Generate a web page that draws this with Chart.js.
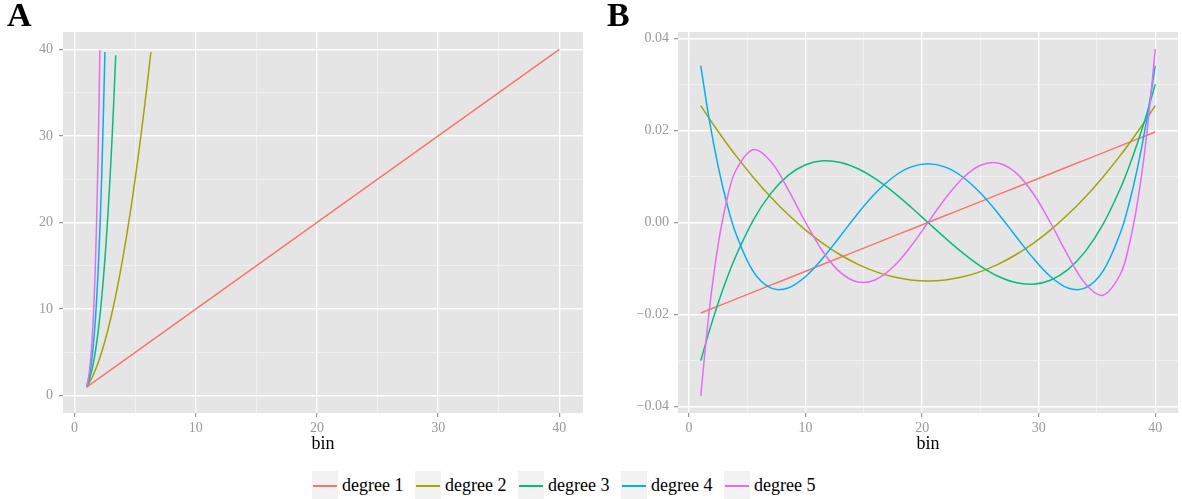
<!DOCTYPE html>
<html>
<head>
<meta charset="utf-8">
<script src="https://cdn.jsdelivr.net/npm/chart.js@4.4.1/dist/chart.umd.min.js"></script>
<style>
  body { margin: 0; background: #fff; font-family: "Liberation Serif", serif; }
  #page { position: relative; width: 1182px; height: 499px; overflow: hidden; }
  canvas { position: absolute; top: 0; }
  #chartA { left: 0; }
  #chartB { left: 590px; }
  .tag { position: absolute; top: -2px; font-size: 34px; font-weight: bold; line-height: 1; }
  .item { position: absolute; top: 471px; height: 28px; }
  .key { position: absolute; left: 0; top: 0; width: 26px; height: 28px; background: #f2f2f2; }
  .key span { position: absolute; left: 1px; right: 1px; top: 14px; height: 1.5px; }
  .lab { position: absolute; left: 30px; top: 2px; font-size: 18px; line-height: 24px; white-space: nowrap; color: #000; }
</style>
</head>
<body>
<div id="page">
  <canvas id="chartA" width="600" height="455"></canvas>
  <canvas id="chartB" width="592" height="455"></canvas>
  <div class="tag" style="left:7px">A</div>
  <div class="tag" style="left:607px">B</div>
  <div id="legend"></div>
</div>
<script>
const seriesNames = ['degree 1', 'degree 2', 'degree 3', 'degree 4', 'degree 5'];
const colors = ['#F8766D', '#A3A500', '#00BF7D', '#00B0F6', '#E76BF3'];

// panel A: raw powers of bin, cut at 40
const binA1 = [1, 40];
const deg1A = [1, 40];
const binA2 = [1, 1.5, 2, 2.5, 3, 3.5, 4, 4.5, 5, 5.5, 6, 6.3];
const deg2A = [1, 2.25, 4, 6.25, 9, 12.25, 16, 20.25, 25, 30.25, 36, 39.69];
const binA3 = [1, 1.25, 1.5, 1.75, 2, 2.25, 2.5, 2.75, 3, 3.2, 3.4];
const deg3A = [1, 1.95, 3.38, 5.36, 8, 11.39, 15.63, 20.8, 27, 32.77, 39.3];
const binA4 = [1, 1.25, 1.5, 1.75, 2, 2.25, 2.51];
const deg4A = [1, 2.44, 5.06, 9.38, 16, 25.63, 39.69];
const binA5 = [1, 1.2, 1.4, 1.6, 1.8, 2, 2.09];
const deg5A = [1, 2.49, 5.38, 10.49, 18.9, 32, 39.88];

// panel B: orthogonal polynomials
const binB = [1, 1.75, 2.5, 3.25, 4, 5.5, 7, 8.5, 10, 11.5, 13, 14.5, 16, 17.5, 19, 20.5,
  22, 23.5, 25, 26.5, 28, 29.5, 31, 32.5, 34, 35.5, 37, 37.75, 38.5, 39.25, 40];
const deg1B = [-0.01966, -0.01890, -0.01815, -0.01739, -0.01664, -0.01512, -0.01361, -0.01210,
  -0.01059, -0.00907, -0.00756, -0.00605, -0.00454, -0.00302, -0.00151, 0,
  0.00151, 0.00302, 0.00454, 0.00605, 0.00756, 0.00907, 0.01059, 0.01210,
  0.01361, 0.01512, 0.01664, 0.01739, 0.01815, 0.01890, 0.01966];
const deg2B = [0.02538, 0.02251, 0.01975, 0.01710, 0.01457, 0.00984, 0.00556, 0.00173,
  -0.00165, -0.00458, -0.00706, -0.00909, -0.01066, -0.01179, -0.01247, -0.01269,
  -0.01247, -0.01179, -0.01066, -0.00909, -0.00706, -0.00458, -0.00165, 0.00173,
  0.00556, 0.00984, 0.01457, 0.01710, 0.01975, 0.02251, 0.02538];
const deg3B = [-0.03003, -0.02343, -0.01747, -0.01212, -0.00737, 0.00048, 0.00627, 0.01022,
  0.01253, 0.01341, 0.01305, 0.01167, 0.00947, 0.00666, 0.00343, 0,
  -0.00343, -0.00666, -0.00947, -0.01167, -0.01305, -0.01341, -0.01253, -0.01022,
  -0.00627, -0.00048, 0.00737, 0.01212, 0.01747, 0.02343, 0.03003];
const deg4B = [0.03405, 0.02205, 0.01213, 0.00407, -0.00229, -0.01063, -0.01421, -0.01422,
  -0.01173, -0.00767, -0.00286, 0.00202, 0.00639, 0.00983, 0.01202, 0.01277,
  0.01202, 0.00983, 0.00639, 0.00202, -0.00286, -0.00767, -0.01173, -0.01422,
  -0.01421, -0.01063, -0.00229, 0.00407, 0.01213, 0.02205, 0.03405];
const deg5B = [-0.03764, -0.01870, -0.00475, 0.00499, 0.01124, 0.01579, 0.01328, 0.00716,
  0, -0.00640, -0.01090, -0.01294, -0.01243, -0.00968, -0.00528, 0,
  0.00528, 0.00968, 0.01243, 0.01294, 0.01090, 0.00640, 0, -0.00716,
  -0.01328, -0.01579, -0.01124, -0.00499, 0.00475, 0.01870, 0.03764];

// ticks
const xTicks = [0, 5, 10, 15, 20, 25, 30, 35, 40];
const xMajor = [0, 10, 20, 30, 40];
const yTicksA = [0, 5, 10, 15, 20, 25, 30, 35, 40];
const yMajorA = [0, 10, 20, 30, 40];
const yTicksB = [-0.04, -0.03, -0.02, -0.01, 0, 0.01, 0.02, 0.03, 0.04];
const yMajorB = [-0.04, -0.02, 0, 0.02, 0.04];
const yLabelsB = ['\u22120.04', '\u22120.02', '0.00', '0.02', '0.04'];

const FONT = '"Liberation Serif", serif';
const TICK_GREY = '#9a9a9a';

const panelBg = {
  id: 'panelBg',
  beforeDraw(chart) {
    const a = chart.chartArea;
    const ctx = chart.ctx;
    ctx.save();
    ctx.fillStyle = '#e5e5e5';
    ctx.fillRect(a.left, a.top, a.right - a.left, a.bottom - a.top);
    ctx.restore();
  }
};

function toPoints(xs, ys) {
  return xs.map((x, i) => ({ x: x, y: ys[i] }));
}

function makeDatasets(pairs) {
  return pairs.map((p, i) => ({
    label: seriesNames[i],
    data: toPoints(p[0], p[1]),
    borderColor: colors[i],
    borderWidth: 1.5,
    pointRadius: 0,
    tension: 0.35,
    fill: false,
    order: 5 - i
  }));
}

function gridFor(major) {
  return {
    color: c => major.includes(c.tick.value) ? '#ffffff' : '#f2f2f2',
    lineWidth: c => major.includes(c.tick.value) ? 1.4 : 0.8,
    tickColor: c => major.includes(c.tick.value) ? '#7f7f7f' : 'rgba(0,0,0,0)',
    tickWidth: 1,
    tickLength: 4
  };
}

function makeOptions(cfg) {
  return {
    responsive: false,
    animation: false,
    layout: { padding: { top: 32, right: cfg.rightPad, left: 0, bottom: 0 } },
    plugins: { legend: { display: false }, tooltip: { enabled: false } },
    scales: {
      x: {
        type: 'linear',
        min: -0.95, max: 41.95,
        afterBuildTicks: s => { s.ticks = xTicks.map(v => ({ value: v })); },
        afterFit: s => { s.height = 42; },
        grid: gridFor(xMajor),
        border: { display: false },
        ticks: {
          autoSkip: false, maxRotation: 0, padding: 3,
          color: TICK_GREY, font: { family: FONT, size: 14 },
          callback: v => xMajor.includes(v) ? String(v) : ''
        },
        title: {
          display: true, text: 'bin', color: '#000',
          font: { family: FONT, size: 18 }, padding: { top: 0, bottom: 0 }
        }
      },
      y: {
        type: 'linear',
        min: cfg.ymin, max: cfg.ymax,
        afterBuildTicks: s => { s.ticks = cfg.yTicks.map(v => ({ value: v })); },
        afterFit: s => { s.width = cfg.yWidth; },
        grid: gridFor(cfg.yMajor),
        border: { display: false },
        ticks: {
          autoSkip: false, padding: cfg.yPad,
          color: TICK_GREY, font: { family: FONT, size: 14 },
          callback: cfg.yLabel
        }
      }
    }
  };
}

new Chart(document.getElementById('chartA'), {
  type: 'line',
  data: {
    datasets: makeDatasets([[binA1, deg1A], [binA2, deg2A], [binA3, deg3A], [binA4, deg4A], [binA5, deg5A]])
  },
  options: makeOptions({
    ymin: -2, ymax: 42, yTicks: yTicksA, yMajor: yMajorA, yWidth: 63, yPad: 6, rightPad: 17,
    yLabel: v => yMajorA.includes(v) ? String(v) : ''
  }),
  plugins: [panelBg]
});

new Chart(document.getElementById('chartB'), {
  type: 'line',
  data: {
    datasets: makeDatasets([[binB, deg1B], [binB, deg2B], [binB, deg3B], [binB, deg4B], [binB, deg5B]])
  },
  options: makeOptions({
    ymin: -0.04137, ymax: 0.04137, yTicks: yTicksB, yMajor: yMajorB, yWidth: 88, yPad: 5, rightPad: 4,
    yLabel: v => { const k = yMajorB.indexOf(v); return k >= 0 ? yLabelsB[k] : ''; }
  }),
  plugins: [panelBg]
});

// legend
const legendLeft = [312, 415, 518, 621, 724];
const legend = document.getElementById('legend');
seriesNames.forEach((name, i) => {
  const item = document.createElement('div');
  item.className = 'item';
  item.style.left = legendLeft[i] + 'px';
  item.innerHTML = '<div class="key"><span style="background:' + colors[i] + '"></span></div>' +
    '<div class="lab">' + name + '</div>';
  legend.appendChild(item);
});
</script>
</body>
</html>
